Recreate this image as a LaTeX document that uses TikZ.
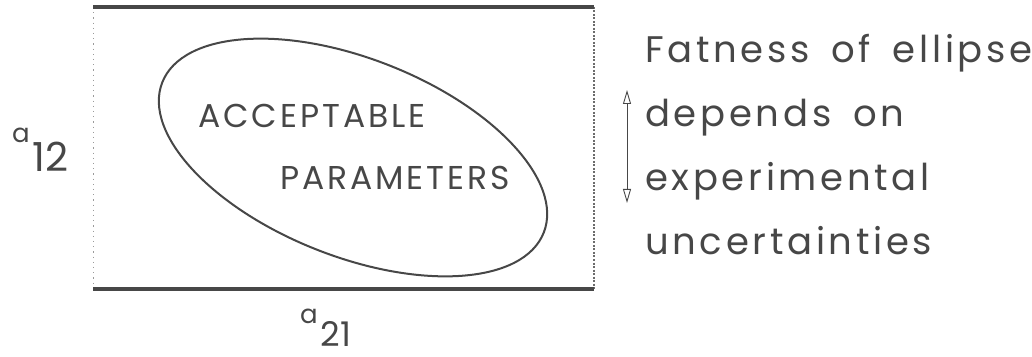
\documentclass[tikz,border=0pt]{standalone}
\usepackage{fontspec}
\usetikzlibrary{shapes.geometric,arrows.meta}
\newfontfamily\plotfont[LetterSpace=9]{Poppins}
\newfontfamily\notefont[LetterSpace=10,WordSpace=1.6]{Poppins}
\newfontfamily\axisfont{Poppins}
\definecolor{ink}{gray}{0.28}
\tikzset{
  frame/.style={draw=ink, line width=3.5pt},
  sideline/.style={draw=ink!55, line width=0.9pt, dash pattern=on 1.2pt off 4pt},
  rightside/.style={draw=ink!80, line width=1.2pt, dash pattern=on 2pt off 1.5pt},
  contour/.style={ellipse, draw=ink, line width=2pt, inner sep=0pt},
  lettering/.style={text=ink, inner sep=0pt, anchor=base, font=\plotfont\fontsize{33}{33}\selectfont},
  note/.style={text=ink, inner sep=0pt, align=left, anchor=north west,
    font=\notefont\fontsize{37}{64}\selectfont},
  axislabel/.style={text=ink, inner sep=0pt, anchor=base west, font=\axisfont},
  span/.style={draw=ink, line width=0.9pt, {Triangle[open,length=14pt,width=8pt]}-{Triangle[open,length=14pt,width=8pt]}}
}
\newcommand{\axisname}[3]{\raisebox{#1}{\fontsize{26}{26}\selectfont a}\kern3pt\fontsize{#2}{#2}\selectfont #3}
\begin{document}
\begin{tikzpicture}[x=1pt,y=1pt]
\useasboundingbox (0,0) rectangle (1032,356);
% parameter window
\coordinate (tl) at (93,349);
\coordinate (tr) at (594,349);
\coordinate (bl) at (93,67);
\coordinate (br) at (594,67);
\draw[sideline] (tl) -- (bl);
\draw[rightside] (tr) -- (br);
\draw[frame] (tl) -- (tr);
\draw[frame] (bl) -- (br);
% region of acceptable parameters
\node[contour, minimum width=410pt, minimum height=198pt, rotate=-21.5] (ell) at (353,198.5) {};
\node[lettering] (acc) at (312,228) {ACCEPTABLE};
\node[lettering] (par) at (395,166) {PARAMETERS};
% axis labels
\node[axislabel] (a12) at (12,184) {\axisname{29pt}{40}{12}};
\node[axislabel] (a21) at (300,10) {\axisname{23pt}{34}{21}};
% explanatory note
\coordinate (up) at (627,266);
\coordinate (down) at (627,153);
\draw[span] (down) -- (up);
\node[note] (txt) at (645,322) {Fatness of ellipse\\depends on\\experimental\\uncertainties};
\end{tikzpicture}
\end{document}
